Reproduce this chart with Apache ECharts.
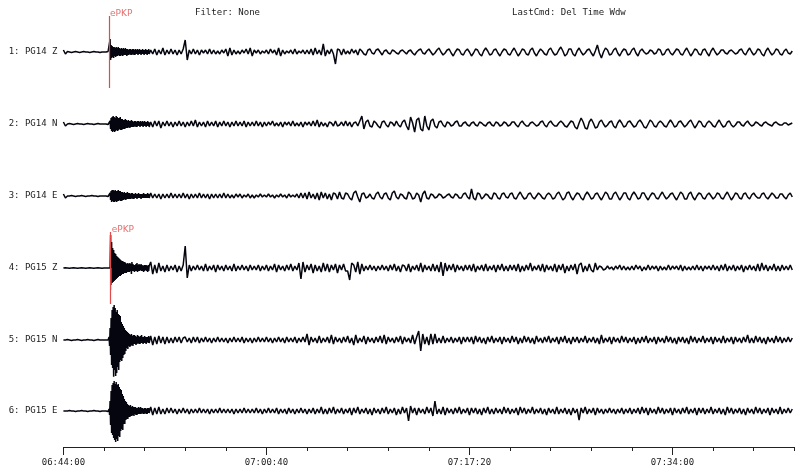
<!DOCTYPE html>
<html><head><meta charset="utf-8">
<script src="https://cdn.jsdelivr.net/npm/echarts@6/dist/echarts.min.js"></script>
<style>html,body{margin:0;padding:0;background:#fff}#c{width:800px;height:474px}</style>
</head><body><div id="c"></div>
<script>
// ---------- data ----------
const sampleStep = 10;               // seconds between samples (whole record)
const burstStart = 225, burstEnd = 425, burstStep = 2.5;   // finer samples around the arrival
const axisMax = 3600;                // seconds shown (06:44:00 -> 07:44:00)
const tickValues = [0, 1000, 2000, 3000];
const tickLabels = ['06:44:00', '07:00:40', '07:17:20', '07:34:00'];
const headerFilter = 'Filter: None';
const headerCmd = 'LastCmd: Del Time Wdw';
const traceNames = ['1: PG14 Z', '2: PG14 N', '3: PG14 E', '4: PG15 Z', '5: PG15 N', '6: PG15 E'];

const tracePG14Z = [
 2,-2,0.5,0,-0.5,0,0.5,0,-0.5,0,0.5,0,0,-0.5,0,0.5,0,0,-0.5,0,
 0,0,0.5,13,-8,6,-5,5,-4,4,-5,3,-4,4,-3,3,-4,3,-3,4,
 -2,3,-3,2,-2,3,-3,2,-2,4,-3,2,-2,3,-2,2,-3,2,-2,3,
 12,-8,2,-2,3,-2,2,-3,2,-1,2,-2,3,-2,2,-2,1,-2,2,-1,
 3,-4,4,-3,2,-2,1,-2,2,-1,3,-2,4,-4,2,-1,2,-2,1,-1,
 2,-2,3,-1,2,-3,4,-4,2,-2,1,-1,2,-2,3,-2,1,-1,2,-2,
 2,-2,3,-3,4,-2,2,-3,8,-4,2,-2,3,-2,-12,3,2,-3,3,-2,
 1,-2,3,-1,2,-3,3,1,-2,-3,2,3,-1,-2,2,3,0,-3,1,2,
 -1,-2,2,1,-1,-2,1,2,0,-2,1,2,-1,-3,0,2,3,-1,-2,1,
 3,0,-3,-1,2,4,0,-3,-1,2,3,-1,-4,0,3,2,-2,-3,1,3,
 0,-4,-1,3,2,-2,-4,1,4,1,-3,-2,2,3,-1,-4,0,3,2,-2,
 -3,1,4,0,-4,-1,3,2,-2,-3,2,4,-1,-4,0,3,1,-2,-3,2,
 4,0,-3,-2,2,5,1,-4,-2,3,3,-2,-4,1,4,0,-3,-1,2,3,
 -1,-4,1,7,-1,-6,0,4,2,-3,-2,2,4,-1,-4,0,3,2,-3,-2,
 2,4,-1,-4,1,3,0,-2,-1,2,1,-2,-1,3,2,-3,-2,2,3,-1,
 -3,0,3,2,-2,-3,1,4,0,-4,-1,3,2,-2,-3,2,3,-1,-4,1,
 4,0,-3,-1,2,2,-1,-2,1,2,0,-2,-1,2,3,-1,-3,1,4,0,
 -3,-1,3,2,-2,-4,1,4,0,-3,-1,3,2,-2,-3,1,3,-1,-2,1
];
const tracePG14N = [
 2,-2,0,0.5,0,-0.5,0,0.5,0,0,-0.5,0,0.5,0,0,-0.5,0,0.5,0,0,
 0,0,-0.5,6,-7,8,-6,7,-8,6,-5,6,-7,5,-4,5,-4,3,-4,3,
 -3,4,-3,2,-3,3,-2,3,-4,2,-2,3,-2,2,-3,2,-2,3,-2,2,
 -3,2,-2,3,-2,4,-3,2,-2,2,-3,3,-2,2,-2,3,-3,2,-2,3,
 -2,2,-3,2,-2,3,-2,2,-2,3,-3,2,-2,2,-2,3,-2,2,-3,2,
 -2,2,-1,3,-2,1,-2,2,-3,2,-1,2,-2,3,-2,1,-2,2,-3,2,
 -1,2,-2,3,-2,4,-3,2,-2,1,-3,2,1,-2,3,-2,-1,2,-2,3,
 -2,2,-3,1,2,-2,3,8,-5,2,4,-2,-3,3,1,-2,-4,2,3,-1,
 -3,2,1,-2,3,-1,-3,2,4,-2,-6,7,1,-8,4,6,-5,-7,8,-2,
 -6,3,5,-2,-4,2,3,-1,-3,2,1,-2,-1,2,3,-2,-2,1,2,-1,
 -2,1,2,-1,-2,2,1,-1,-2,1,2,-1,-2,2,1,-2,-1,2,1,-2,
 -1,2,2,-1,-3,1,3,0,-2,-2,1,2,0,-2,-1,2,3,-1,-3,1,
 3,0,-2,-2,1,3,1,-2,-3,0,3,2,-3,-5,1,6,2,-4,-5,2,
 5,1,-4,-3,2,4,0,-3,-1,2,3,-2,-4,1,4,1,-3,-2,2,3,
 0,-3,-2,2,4,1,-3,-4,0,4,2,-2,-3,1,3,1,-2,-3,1,4,
 1,-3,-2,2,3,0,-3,-1,2,4,0,-4,-1,3,2,-2,-3,1,3,1,
 -2,-3,1,4,0,-3,-2,2,3,-1,-3,-1,2,2,-1,-2,1,3,0,-2,
 -1,2,1,-1,-2,1,2,0,-1,-2,1,2,0,-1,-1,1,1,-1,0,1
];
const tracePG14E = [
 2,-2,0,0,0.5,0,-0.5,0,0,0.5,0,-0.5,0,0,0.5,0,0,-0.5,0,0,
 0,0,-0.5,5,-6,6,-5,6,-6,5,-5,4,-5,4,-4,3,-4,3,-3,2,
 -3,2,-2,3,-2,2,-2,2,-3,2,-2,2,-2,3,-2,2,-2,2,-2,3,
 -2,2,-3,2,-2,2,-2,3,-2,2,-2,2,-3,2,-2,2,-2,2,-2,3,
 -2,2,-2,1,-2,2,-1,2,-2,1,-1,2,-2,1,-2,1,-1,2,-1,1,
 -1,2,-1,1,-2,1,-1,2,-1,1,-2,2,-1,1,-1,2,-2,3,-2,3,
 -3,4,-2,2,-3,3,-4,4,-2,3,-3,2,-4,3,2,-3,4,-2,-3,3,
 2,-2,-4,3,5,-1,-6,2,3,-2,-1,2,-2,-3,2,4,-1,-3,2,3,
 -2,-4,3,5,-1,-3,2,1,-2,-3,4,2,-3,-2,3,1,-6,2,5,-2,
 -3,2,1,-2,-1,2,1,-2,-1,1,2,-1,-2,2,1,-2,-2,2,3,-1,
 -3,7,-2,-4,3,2,-3,-1,2,1,-2,-3,3,2,-2,-3,2,3,-1,-2,
 2,3,-2,-3,1,4,0,-3,-2,2,3,-1,-3,0,3,1,-2,-3,1,3,
 1,-3,-2,2,4,0,-4,-2,3,4,-1,-4,0,3,2,-2,-4,1,4,1,
 -3,-2,2,3,-1,-4,0,4,2,-3,-3,2,4,0,-4,-1,3,3,-2,-4,
 1,4,1,-3,-2,3,3,-1,-4,0,3,2,-2,-3,1,4,0,-3,-1,2,
 3,-1,-4,0,4,2,-3,-3,2,4,-1,-4,0,3,2,-2,-3,1,3,0,
 -3,-1,3,2,-2,-3,1,4,0,-4,-1,3,2,-2,-3,2,3,-1,-3,1,
 3,0,-2,-2,2,3,-1,-3,0,3,1,-2,-2,2,2,-1,-3,1,3,-1
];
const tracePG15Z = [
 0,0.3,0,-0.3,0,0.3,0,-0.3,0,0.3,0,-0.3,0,0.3,0,-0.3,0,0.3,0,-0.3,
 0,0,0,33,-17,20,-14,15,-12,11,-10,9,-8,7,-6,6,-5,4,-4,5,
 -3,3,-4,6,-6,3,-5,5,-3,2,-4,3,-3,2,-2,3,-4,2,-3,3,
 22,-10,3,-3,2,-2,3,-2,2,-3,4,-3,2,-2,3,-4,3,-2,2,-3,
 3,-2,2,-3,4,-3,2,-2,3,-2,2,-3,3,-2,2,-2,3,-3,2,-2,
 3,-3,2,-2,4,-4,3,-2,2,-3,3,-2,4,-3,2,-2,5,-11,6,-4,
 3,-2,4,-5,3,-3,2,-4,5,-3,4,-4,3,-2,4,-5,3,-2,4,-3,
 -3,-12,5,3,-4,6,-6,4,-3,2,-2,3,-2,2,-3,2,-2,3,-2,2,
 -3,3,-2,4,-3,2,-4,3,2,-3,4,-4,2,-2,3,-3,5,-4,3,-2,
 2,-3,4,-3,3,-4,6,-8,5,-3,3,-2,4,-4,3,-2,2,-3,3,-2,
 3,-3,4,-4,2,-2,3,-3,4,-3,2,-2,3,-4,3,-2,4,-3,2,-3,
 3,-2,3,-3,4,-4,2,-3,3,-2,5,-3,2,-2,3,-3,4,-4,3,-2,
 2,-3,4,-4,3,-2,4,-5,2,-3,3,-2,4,-6,3,5,-4,2,-3,4,
 -2,-4,5,-2,2,1,-2,-1,2,-1,1,-2,2,-1,3,-2,2,-2,1,-2,
 2,-2,3,-1,2,-3,1,-2,3,-2,2,-1,2,-3,2,-2,1,-2,3,-2,
 2,-1,2,-2,3,-3,2,-2,1,-2,2,-2,3,-2,2,-3,2,-1,2,-2,
 3,-2,2,-3,3,-2,4,-3,2,-2,3,-3,2,-2,3,-4,2,-2,3,-2,
 2,-3,4,-3,5,-2,3,-3,2,-2,4,-3,2,-3,3,-2,2,-2,3,-2
];
const tracePG15N = [
 0,0,0.5,0,-0.5,0,0,0.5,0,-0.5,0,0,0.5,0,0,-0.5,0,0.5,0,0,
 0,0,0,15,-22,30,-35,33,-30,28,-26,22,-20,16,-15,12,-10,8,-7,6,
 -5,5,-4,4,-5,3,-4,4,-3,3,-4,3,-3,2,-3,3,-2,3,-3,2,
 3,-2,2,-3,3,-2,3,-3,2,-2,3,-2,2,-3,2,-2,3,-2,2,-2,
 2,-3,2,-2,3,-2,2,-2,3,-3,2,-2,2,-3,2,-2,3,-2,2,-2,
 3,-2,2,-3,2,-2,3,-2,2,-3,3,-2,2,-2,3,-3,2,-2,3,-2,
 6,-5,3,-2,2,-3,4,-3,2,-2,3,-3,5,-4,3,-2,2,-3,3,-2,
 4,-3,2,-5,5,-3,2,-2,4,-4,3,-2,2,-3,3,-2,4,-3,5,-4,
 3,-2,2,-3,3,-2,4,-4,3,-2,2,-3,5,-4,3,9,-11,6,-4,3,
 -5,6,-4,6,-3,2,-3,4,-3,2,-2,3,-3,2,-2,3,-4,3,-2,3,
 -2,3,-4,4,-2,3,-3,2,-4,3,-2,4,-3,2,-2,3,-4,3,-2,2,
 -3,4,-2,3,-4,2,-3,4,-2,3,-3,2,-4,4,-2,2,-3,3,-2,4,
 -3,2,-2,3,-4,3,-2,4,-3,2,-4,3,-2,3,-3,2,-2,4,-3,2,
 -2,3,-3,2,-4,5,-3,2,-2,3,-4,3,-2,2,-3,4,-2,3,-3,2,
 -2,3,-4,2,-3,3,-2,4,-3,2,-2,3,-4,3,-2,2,-3,4,-2,3,
 -3,2,-4,3,-2,3,-3,2,-4,4,-2,3,-3,2,-2,4,-3,2,-2,3,
 -4,3,-2,2,-3,4,-3,2,-2,3,-4,3,-2,2,-3,3,-2,5,-3,2,
 -3,4,-2,3,-3,2,-4,3,-2,2,-3,4,-2,3,-3,2,-2,3,-2,2
];
const tracePG15E = [
 0,0,0,0.5,0,0,-0.5,0,0,0.5,0,0,-0.5,0,0,0.5,0,0,-0.5,0,
 0,0,-0.5,14,-20,26,-28,29,-31,27,-25,22,-20,16,-14,10,-8,6,-5,4,
 -4,5,-3,4,-4,3,-3,4,-3,2,-3,3,-2,3,-2,2,-3,2,-2,3,
 -2,2,-3,2,-2,2,-2,3,-2,2,-2,2,-3,2,-2,2,-2,3,-2,2,
 -2,2,-2,2,-3,2,-2,2,-2,3,-2,2,-2,2,-2,3,-2,2,-3,2,
 -2,3,-2,2,-2,3,-3,2,-2,2,-3,3,-2,2,-3,2,-2,3,-2,2,
 -3,2,-2,3,-3,2,-2,4,-3,2,-3,3,-2,4,-3,2,-2,3,-3,2,
 -2,3,-4,3,-2,4,-3,2,-2,3,-3,2,-4,3,-2,2,-3,3,-2,4,
 -3,2,-2,3,-4,2,-3,4,-2,3,-10,5,-2,3,-4,3,-2,2,-3,4,
 -2,3,-5,10,-3,2,-3,4,-4,3,-2,2,-3,3,-2,4,-3,2,-2,3,
 -4,3,-2,3,-3,2,-4,3,-2,4,-3,2,-3,3,-2,2,-3,4,-2,3,
 -3,2,-2,3,-4,4,-2,3,-3,2,-2,4,-3,2,-2,3,-3,2,-4,3,
 -2,2,-3,4,-3,2,-2,3,-3,2,-4,3,-2,2,-9,3,-2,4,-3,2,
 -2,3,-4,3,-2,2,-3,2,-2,3,-2,2,-3,2,-2,3,-3,2,-2,3,
 -3,2,-2,3,-3,4,-2,3,-4,3,-2,2,-3,4,-2,3,-3,2,-2,3,
 -4,3,-2,2,-3,3,-2,4,-3,2,-2,3,-4,3,-2,3,-3,2,-2,4,
 -3,2,-2,3,-3,2,-4,4,-2,3,-3,2,-2,3,-3,2,-4,3,-2,2,
 -3,4,-2,3,-3,2,-2,3,-4,3,-2,2,-3,4,-3,2,-2,3,-2,2
];

// finer samples (every 2.5 s) from 06:47:45 to 06:51:05, read from the dense arrival bursts
const burstPG14Z = [
 0,0,13,-8,7,-6,6,-5,5,-6, 5,-4,4,-5,5,-4,4,-4,5,-3,
 4,-4,3,-4,4,-3,3,-4,4,-3, 3,-3,4,-3,3,-4,3,-3,2,-3,
 3,-2,3,-3,2,-3,3,-2,3,-3, 2,-3,3,-2,2,-2,3,-3,2,-2,
 3,-2,2,-3,2,-2,3,-2,2,-3, 2,-2,3,-2,2,-3,2,-2,3,-2
];
const burstPG14N = [
 0,-1,3,-5,6,-7,7,-8,8,-7, 7,-8,6,-7,8,-6,7,-7,6,-6,
 6,-5,7,-6,5,-6,5,-5,4,-5, 4,-5,5,-4,4,-4,3,-4,4,-3,
 3,-4,3,-3,4,-3,3,-3,2,-3, 3,-2,3,-3,2,-3,3,-2,3,-2,
 2,-3,3,-2,2,-2,3,-3,2,-2, 3,-2,2,-3,2,-2,3,-2,2,-3
];
const burstPG14E = [
 0,-1,3,-4,5,-6,6,-5,6,-6, 5,-6,6,-5,5,-6,5,-5,6,-5,
 5,-4,5,-5,4,-5,4,-4,3,-4, 4,-3,3,-4,3,-3,4,-3,3,-3,
 3,-3,2,-3,3,-2,3,-3,2,-3, 2,-2,3,-2,2,-3,2,-2,3,-2,
 2,-2,2,-3,2,-2,2,-2,3,-2, 2,-2,2,-2,2,-2,3,-2,2,-2
];
const burstPG15Z = [
 0,0,0,33,-17,26,-15,20,-14,18, -13,15,-12,14,-11,12,-10,11,-9,10,
 -8,9,-8,8,-7,7,-6,7,-6,6, -5,6,-5,5,-5,4,-4,5,-4,4,
 -4,5,-3,4,-6,6,-3,4,-3,3, -4,3,-3,4,-3,5,-4,3,-3,4,
 -3,3,-2,4,-3,3,-3,2,-4,3, -3,3,-2,3,-3,2,-4,3,-3,2
];
const burstPG15N = [
 3,-6,12,-15,22,-25,30,-28,33,-38, 35,-30,32,-36,28,-33,30,-27,26,-30,
 25,-22,24,-20,18,-21,16,-18,14,-15, 12,-14,10,-11,9,-8,8,-9,7,-6,
 6,-7,5,-6,6,-5,4,-6,5,-4, 5,-4,4,-5,3,-4,5,-3,4,-4,
 3,-4,4,-3,5,-3,3,-4,3,-3, 4,-3,3,-4,3,-2,3,-3,4,-3
];
const burstPG15E = [
 2,-4,10,-14,20,-22,26,-24,28,-27, 30,-29,27,-31,29,-28,26,-30,27,-25,
 24,-26,22,-20,21,-18,17,-19,15,-13, 12,-13,10,-9,9,-8,7,-8,6,-6,
 5,-6,6,-5,4,-5,5,-4,4,-5, 4,-3,4,-4,3,-4,3,-3,4,-3,
 3,-3,4,-3,3,-2,3,-3,2,-3, 3,-2,3,-3,2,-3,3,-2,3,-2
];
const traces = [tracePG14Z, tracePG14N, tracePG14E, tracePG15Z, tracePG15N, tracePG15E];
const bursts = [burstPG14Z, burstPG14N, burstPG14E, burstPG15Z, burstPG15N, burstPG15E];

// phase picks: trace index, time (s from 06:44:00), label
const pickTrace = [0, 3];
const pickTime = [225, 233];
const pickLabel = ['ePKP', 'ePKP'];
const pickCyanAmp = [0, -22];   // cyan uncertainty segment on trace 4

// ---------- layout / style ----------
const centers = [52, 124, 196, 268, 340, 411];
const half = 36;
const gridLeft = 63.4, gridRight = 5.7;
const font = 'DejaVu Sans Mono';
const traceColor = '#05050f';
const pickColor = '#e04a4a';

function buildTrace(k) {
  const pts = [];
  traces[k].forEach((v, i) => {
    const t = i * sampleStep;
    if (t < burstStart || t >= burstEnd) pts.push([t, v]);
  });
  bursts[k].forEach((v, j) => pts.push([burstStart + j * burstStep, v]));
  pts.sort((a, b) => a[0] - b[0]);
  return pts;
}

const grids = [], xAxes = [], yAxes = [], series = [];
centers.forEach((c, k) => {
  grids.push({left: gridLeft, right: gridRight, top: c - half, height: half * 2});
  xAxes.push({type: 'value', gridIndex: k, min: 0, max: axisMax, show: false});
  yAxes.push({type: 'value', gridIndex: k, min: -half, max: half,
    axisLine: {show: false}, axisTick: {show: false}, splitLine: {show: false},
    axisLabel: {show: true, customValues: [0], margin: 6, color: '#222',
      fontFamily: font, fontSize: 9, formatter: () => traceNames[k]}});
  const s = {
    type: 'line', xAxisIndex: k, yAxisIndex: k, symbol: 'none', silent: true,
    animation: false, sampling: null,
    lineStyle: {color: traceColor, width: 1.5},
    data: buildTrace(k), z: 3
  };
  const pIdx = pickTrace.indexOf(k);
  if (pIdx >= 0) {
    s.markLine = {silent: true, symbol: ['none', 'none'], animation: false,
      lineStyle: {color: pickColor, width: 1.2, type: 'solid'},
      label: {show: false}, data: [{xAxis: pickTime[pIdx]}]};
  }
  series.push(s);
});
// bottom axis grids (major + minor ticks)
const lastC = centers[centers.length - 1];
grids.push({left: gridLeft, right: gridRight, top: lastC - half, height: half * 2});
grids.push({left: gridLeft, right: gridRight, top: lastC - half, height: half * 2});
xAxes.push({type: 'value', gridIndex: 6, min: 0, max: axisMax, position: 'bottom',
  axisLine: {show: true, onZero: false, lineStyle: {color: '#222', width: 1}},
  axisTick: {show: true, length: 8, customValues: tickValues, lineStyle: {color: '#222'}},
  axisLabel: {show: true, customValues: tickValues, margin: 11, color: '#222', fontFamily: font, fontSize: 9,
    formatter: v => tickLabels[tickValues.indexOf(v)] || ''},
  splitLine: {show: false}});
xAxes.push({type: 'value', gridIndex: 7, min: 0, max: axisMax, interval: 200, position: 'bottom',
  axisLine: {show: false, onZero: false}, axisTick: {show: true, length: 4, lineStyle: {color: '#222'}},
  axisLabel: {show: false}, splitLine: {show: false}});
yAxes.push({type: 'value', gridIndex: 6, min: -half, max: half, show: false});
yAxes.push({type: 'value', gridIndex: 7, min: -half, max: half, show: false});
series.push({type: 'line', xAxisIndex: 6, yAxisIndex: 6, data: [], silent: true});
series.push({type: 'line', xAxisIndex: 7, yAxisIndex: 7, data: [], silent: true});

// cyan segment on trace 4
series.push({type: 'line', xAxisIndex: 3, yAxisIndex: 3, symbol: 'none', silent: true, animation: false,
  lineStyle: {color: '#5fe0e6', width: 1.4}, z: 4,
  data: pickCyanAmp.map(a => [pickTime[1], a])});
// pick labels
pickTrace.forEach((k, p) => {
  series.push({type: 'scatter', xAxisIndex: k, yAxisIndex: k, symbolSize: 0, clip: false, silent: true,
    animation: false, z: 5,
    data: [[pickTime[p], half + 2]],
    label: {show: true, position: 'right', distance: 1, formatter: pickLabel[p],
      color: pickColor, fontFamily: 'DejaVu Sans', fontSize: 9}});
});

const chart = echarts.init(document.getElementById('c'), null, {renderer: 'canvas'});
chart.setOption({
  backgroundColor: '#ffffff',
  animation: false,
  title: [
    {text: headerFilter, left: 190, top: 3, textStyle: {fontFamily: font, fontSize: 9, fontWeight: 'normal', color: '#222'}},
    {text: headerCmd, left: 507, top: 3, textStyle: {fontFamily: font, fontSize: 9, fontWeight: 'normal', color: '#222'}}
  ],
  grid: grids, xAxis: xAxes, yAxis: yAxes, series: series
});
</script></body></html>
